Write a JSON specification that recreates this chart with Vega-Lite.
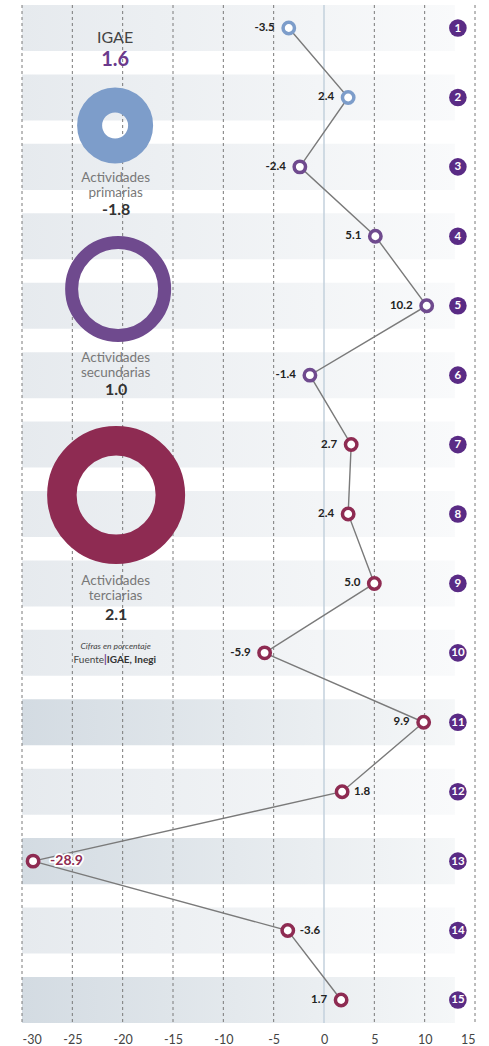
{
  "$schema": "https://vega.github.io/schema/vega-lite/v6.json",
  "width": 453,
  "height": 1018,
  "autosize": {"type": "none"},
  "padding": {"left": 22, "top": 5, "right": 14, "bottom": 23},
  "background": "white",
  "config": {
    "view": {"stroke": null},
    "locale": {"number": {"decimal": ".", "thousands": ",", "grouping": [3], "currency": ["$", ""], "minus": "-"}},
    "axisX": {"title": null, "grid": false, "domain": false, "ticks": false, "labelFont": "Lato", "labelFontSize": 12.5, "labelColor": "#444444", "labelPadding": 10, "values": [-30, -25, -20, -15, -10, -5, 0, 5, 10, 15]}
  },
  "datasets": {
    "filas": [
      {"row": 1, "valor": -3.5, "grupo": "primarias"},
      {"row": 2, "valor": 2.4, "grupo": "primarias"},
      {"row": 3, "valor": -2.4, "grupo": "secundarias"},
      {"row": 4, "valor": 5.1, "grupo": "secundarias"},
      {"row": 5, "valor": 10.2, "grupo": "secundarias"},
      {"row": 6, "valor": -1.4, "grupo": "secundarias"},
      {"row": 7, "valor": 2.7, "grupo": "terciarias"},
      {"row": 8, "valor": 2.4, "grupo": "terciarias"},
      {"row": 9, "valor": 5.0, "grupo": "terciarias"},
      {"row": 10, "valor": -5.9, "grupo": "terciarias"},
      {"row": 11, "valor": 9.9, "grupo": "terciarias"},
      {"row": 12, "valor": 1.8, "grupo": "terciarias"},
      {"row": 13, "valor": -28.9, "grupo": "terciarias"},
      {"row": 14, "valor": -3.6, "grupo": "terciarias"},
      {"row": 15, "valor": 1.7, "grupo": "terciarias"}
    ],
    "rejilla": [{"v": -30}, {"v": -25}, {"v": -20}, {"v": -15}, {"v": -10}, {"v": -5}, {"v": 5}, {"v": 10}, {"v": 15}],
    "donas": [
      {"grupo": "primarias", "x": -20.75, "y": 2.404},
      {"grupo": "secundarias", "x": -20.45, "y": 4.759},
      {"grupo": "terciarias", "x": -20.65, "y": 7.726}
    ],
    "etiquetas": [
      {"x": -20.7, "y": 3.155, "t": "Actividades"},
      {"x": -20.7, "y": 3.38, "t": "primarias"},
      {"x": -20.7, "y": 5.748, "t": "Actividades"},
      {"x": -20.7, "y": 5.973, "t": "secundarias"},
      {"x": -20.7, "y": 8.96, "t": "Actividades"},
      {"x": -20.7, "y": 9.175, "t": "terciarias"}
    ],
    "valores": [
      {"x": -20.65, "y": 3.62, "t": "-1.8"},
      {"x": -20.65, "y": 6.214, "t": "1.0"},
      {"x": -20.65, "y": 9.455, "t": "2.1"}
    ]
  },
  "resolve": {"scale": {"y": "independent"}},
  "layer": [
    {
      "data": {"name": "filas"},
      "layer": [
        {
          "transform": [{"filter": "datum.row != 11 && datum.row != 13 && datum.row != 15"}],
          "mark": {"type": "rect", "color": {"gradient": "linear", "x1": 0, "x2": 1, "y1": 0, "y2": 0, "stops": [{"offset": 0, "color": "#e6eaee"}, {"offset": 1, "color": "#f9fafb"}]}},
          "encoding": {
            "x": {"datum": -30, "type": "quantitative", "scale": {"domain": [-30, 15], "nice": false, "zero": false}, "title": null},
            "x2": {"datum": 13},
            "y": {"field": "row", "type": "ordinal", "scale": {"type": "band", "paddingInner": 0.337, "paddingOuter": 0}, "axis": null}
          }
        },
        {
          "transform": [{"filter": "datum.row == 11 || datum.row == 13 || datum.row == 15"}],
          "mark": {"type": "rect", "color": {"gradient": "linear", "x1": 0, "x2": 1, "y1": 0, "y2": 0, "stops": [{"offset": 0, "color": "#d3dbe2"}, {"offset": 1, "color": "#f5f7f8"}]}},
          "encoding": {
            "x": {"datum": -30, "type": "quantitative", "title": null},
            "x2": {"datum": 13},
            "y": {"field": "row", "type": "ordinal", "axis": null}
          }
        },
        {
          "data": {"name": "rejilla"},
          "mark": {"type": "rule", "color": "#7a7a7a", "strokeWidth": 1, "strokeDash": [3, 3]},
          "encoding": {"x": {"field": "v", "type": "quantitative", "title": null}}
        },
        {
          "data": {"values": [{"v": 0}]},
          "mark": {"type": "rule", "color": "#c3d1dd", "strokeWidth": 1.5},
          "encoding": {"x": {"field": "v", "type": "quantitative", "title": null}}
        },
        {
          "mark": {"type": "line", "color": "#7a7a7a", "strokeWidth": 1.4},
          "encoding": {
            "x": {"field": "valor", "type": "quantitative", "title": null},
            "y": {"field": "row", "type": "ordinal", "axis": null},
            "order": {"field": "row", "type": "quantitative"}
          }
        },
        {
          "mark": {"type": "point", "shape": "circle", "filled": true, "fill": "white", "opacity": 1, "size": 130, "strokeWidth": 3.5},
          "encoding": {
            "x": {"field": "valor", "type": "quantitative", "title": null},
            "y": {"field": "row", "type": "ordinal", "axis": null},
            "stroke": {"field": "grupo", "type": "nominal", "scale": {"domain": ["primarias", "secundarias", "terciarias"], "range": ["#7d9dca", "#6f4a8e", "#8e2b52"]}, "legend": null}
          }
        },
        {
          "transform": [{"filter": "datum.row != 12 && datum.row != 13 && datum.row != 14"}],
          "mark": {"type": "text", "align": "right", "baseline": "middle", "dx": -14, "font": "Lato", "fontWeight": "bold", "fontSize": 11.5, "color": "#222222"},
          "encoding": {
            "x": {"field": "valor", "type": "quantitative", "title": null},
            "y": {"field": "row", "type": "ordinal", "axis": null},
            "text": {"field": "valor", "type": "quantitative", "format": ".1f"}
          }
        },
        {
          "transform": [{"filter": "datum.row == 12 || datum.row == 14"}],
          "mark": {"type": "text", "align": "left", "baseline": "middle", "dx": 12, "font": "Lato", "fontWeight": "bold", "fontSize": 11.5, "color": "#222222"},
          "encoding": {
            "x": {"field": "valor", "type": "quantitative", "title": null},
            "y": {"field": "row", "type": "ordinal", "axis": null},
            "text": {"field": "valor", "type": "quantitative", "format": ".1f"}
          }
        },
        {
          "transform": [{"filter": "datum.row == 13"}],
          "mark": {"type": "text", "align": "left", "baseline": "middle", "dx": 17, "font": "Lato", "fontWeight": "bold", "fontSize": 14, "color": "white", "stroke": "white", "strokeWidth": 3.5, "strokeJoin": "round"},
          "encoding": {
            "x": {"field": "valor", "type": "quantitative", "title": null},
            "y": {"field": "row", "type": "ordinal", "axis": null},
            "text": {"field": "valor", "type": "quantitative", "format": ".1f"}
          }
        },
        {
          "transform": [{"filter": "datum.row == 13"}],
          "mark": {"type": "text", "align": "left", "baseline": "middle", "dx": 17, "font": "Lato", "fontWeight": "bold", "fontSize": 14, "color": "#8e2b52"},
          "encoding": {
            "x": {"field": "valor", "type": "quantitative", "title": null},
            "y": {"field": "row", "type": "ordinal", "axis": null},
            "text": {"field": "valor", "type": "quantitative", "format": ".1f"}
          }
        },
        {
          "mark": {"type": "point", "shape": "circle", "filled": true, "color": "#5a2b85", "opacity": 1, "size": 310, "strokeWidth": 0},
          "encoding": {
            "x": {"datum": 13.3, "type": "quantitative", "title": null},
            "y": {"field": "row", "type": "ordinal", "axis": null}
          }
        },
        {
          "mark": {"type": "text", "align": "center", "baseline": "middle", "dy": 0.5, "font": "Lato", "fontWeight": "bold", "fontSize": 11.5, "color": "white"},
          "encoding": {
            "x": {"datum": 13.3, "type": "quantitative", "title": null},
            "y": {"field": "row", "type": "ordinal", "axis": null},
            "text": {"field": "row", "type": "ordinal"}
          }
        }
      ]
    },
    {
      "layer": [
        {
          "data": {"name": "donas"},
          "mark": {"type": "point", "shape": "circle", "filled": false, "opacity": 1},
          "encoding": {
            "x": {"field": "x", "type": "quantitative", "title": null},
            "y": {"field": "y", "type": "quantitative", "scale": {"domain": [0.6687, 15.3313], "reverse": true, "nice": false, "zero": false}, "axis": null},
            "stroke": {"field": "grupo", "type": "nominal", "legend": null},
            "size": {"field": "grupo", "type": "nominal", "scale": {"type": "ordinal", "domain": ["primarias", "secundarias", "terciarias"], "range": [2601, 8649, 11772]}, "legend": null},
            "strokeWidth": {"field": "grupo", "type": "nominal", "scale": {"type": "ordinal", "domain": ["primarias", "secundarias", "terciarias"], "range": [25, 13, 29.5]}, "legend": null}
          }
        },
        {
          "data": {"values": [{"x": -20.75, "y": 1.144, "t": "IGAE"}]},
          "mark": {"type": "text", "align": "center", "baseline": "middle", "font": "Lato", "fontSize": 16, "color": "#444444"},
          "encoding": {
            "x": {"field": "x", "type": "quantitative", "title": null},
            "y": {"field": "y", "type": "quantitative", "axis": null},
            "text": {"field": "t"}
          }
        },
        {
          "data": {"values": [{"x": -20.75, "y": 1.468, "t": "1.6"}]},
          "mark": {"type": "text", "align": "center", "baseline": "middle", "font": "Lato", "fontWeight": "bold", "fontSize": 20, "color": "#6b3a8c"},
          "encoding": {
            "x": {"field": "x", "type": "quantitative", "title": null},
            "y": {"field": "y", "type": "quantitative", "axis": null},
            "text": {"field": "t"}
          }
        },
        {
          "data": {"name": "etiquetas"},
          "mark": {"type": "text", "align": "center", "baseline": "middle", "font": "Lato", "fontSize": 13.5, "color": "#787878"},
          "encoding": {
            "x": {"field": "x", "type": "quantitative", "title": null},
            "y": {"field": "y", "type": "quantitative", "axis": null},
            "text": {"field": "t"}
          }
        },
        {
          "data": {"name": "valores"},
          "mark": {"type": "text", "align": "center", "baseline": "middle", "font": "Lato", "fontWeight": "bold", "fontSize": 16, "color": "#333333"},
          "encoding": {
            "x": {"field": "x", "type": "quantitative", "title": null},
            "y": {"field": "y", "type": "quantitative", "axis": null},
            "text": {"field": "t"}
          }
        },
        {
          "data": {"values": [{"x": -20.7, "y": 9.901, "t": "Cifras en porcentaje"}]},
          "mark": {"type": "text", "align": "center", "baseline": "middle", "font": "Lato", "fontStyle": "italic", "fontSize": 8.5, "color": "#444444"},
          "encoding": {
            "x": {"field": "x", "type": "quantitative", "title": null},
            "y": {"field": "y", "type": "quantitative", "axis": null},
            "text": {"field": "t"}
          }
        },
        {
          "data": {"values": [{"x": -21.85, "y": 10.1, "t": "Fuente"}]},
          "mark": {"type": "text", "align": "right", "baseline": "middle", "font": "Lato", "fontSize": 10, "color": "#444444"},
          "encoding": {
            "x": {"field": "x", "type": "quantitative", "title": null},
            "y": {"field": "y", "type": "quantitative", "axis": null},
            "text": {"field": "t"}
          }
        },
        {
          "data": {"values": [{"x": -21.72, "y": 10.1, "t": "|"}]},
          "mark": {"type": "text", "align": "center", "baseline": "middle", "font": "Lato", "fontWeight": "bold", "fontSize": 10.5, "color": "#6b3a8c"},
          "encoding": {
            "x": {"field": "x", "type": "quantitative", "title": null},
            "y": {"field": "y", "type": "quantitative", "axis": null},
            "text": {"field": "t"}
          }
        },
        {
          "data": {"values": [{"x": -21.58, "y": 10.1, "t": "IGAE, Inegi"}]},
          "mark": {"type": "text", "align": "left", "baseline": "middle", "font": "Lato", "fontWeight": "bold", "fontSize": 10, "color": "#333333"},
          "encoding": {
            "x": {"field": "x", "type": "quantitative", "title": null},
            "y": {"field": "y", "type": "quantitative", "axis": null},
            "text": {"field": "t"}
          }
        }
      ]
    }
  ]
}
